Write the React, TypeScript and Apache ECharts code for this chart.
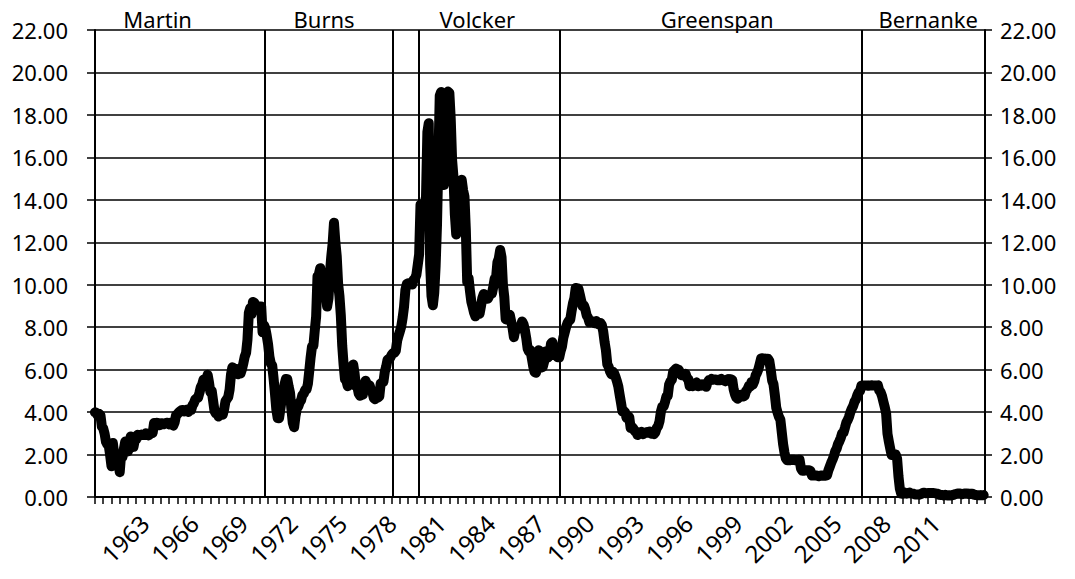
import React, { useEffect, useRef } from "react";
import * as echarts from "echarts";

const START_YEAR = 1960;
const END_YEAR = 2014;
const FONT = '"Noto Sans", "Open Sans", sans-serif';

// Monthly federal funds rate (%)
const rates1960s = [
  3.99, 3.97, 3.84, 3.92, 3.85, 3.32, 3.23, 2.98, 2.6, 2.47, 2.44, 1.98,
  1.45, 2.54, 2.02, 1.49, 1.98, 1.73, 1.17, 2.0, 1.88, 2.26, 2.61, 2.33,
  2.15, 2.37, 2.85, 2.78, 2.36, 2.68, 2.71, 2.93, 2.9, 2.9, 2.94, 2.93,
  2.92, 3.0, 2.98, 2.9, 3.0, 2.99, 3.02, 3.49, 3.48, 3.5, 3.48, 3.38,
  3.48, 3.48, 3.43, 3.47, 3.5, 3.5, 3.42, 3.5, 3.45, 3.36, 3.52, 3.85,
  3.9, 3.98, 4.04, 4.09, 4.1, 4.04, 4.09, 4.12, 4.01, 4.08, 4.1, 4.32,
  4.42, 4.6, 4.65, 4.67, 4.9, 5.17, 5.3, 5.53, 5.4, 5.53, 5.76, 5.4,
  4.94, 5.0, 4.53, 4.05, 3.94, 3.98, 3.79, 3.9, 3.99, 3.88, 4.13, 4.51,
  4.61, 4.71, 5.05, 5.76, 6.11, 6.07, 6.02, 6.03, 5.78, 5.91, 5.82, 6.02,
  6.3, 6.61, 6.79, 7.41, 8.67, 8.9, 8.61, 9.19, 9.15, 9.0, 8.85, 8.97,
];
const rates1970s = [
  8.98, 8.98, 7.76, 8.1, 7.95, 7.61, 7.21, 6.61, 6.29, 6.2, 5.6, 4.9,
  4.14, 3.72, 3.71, 4.16, 4.63, 4.91, 5.31, 5.56, 5.55, 5.2, 4.91, 4.14,
  3.5, 3.29, 3.83, 4.17, 4.27, 4.46, 4.55, 4.8, 4.87, 5.04, 5.06, 5.33,
  5.94, 6.58, 7.09, 7.12, 7.84, 8.49, 10.4, 10.5, 10.78, 10.01, 10.03, 9.95,
  9.65, 8.97, 9.35, 10.51, 11.31, 11.93, 12.92, 12.01, 11.34, 10.06, 9.45, 8.53,
  7.13, 6.24, 5.54, 5.49, 5.22, 5.55, 6.1, 6.14, 6.24, 5.82, 5.22, 5.2,
  4.87, 4.77, 4.84, 4.82, 5.29, 5.48, 5.31, 5.29, 5.25, 5.02, 4.95, 4.65,
  4.61, 4.68, 4.69, 4.73, 5.35, 5.39, 5.42, 5.9, 6.14, 6.47, 6.51, 6.56,
  6.7, 6.78, 6.79, 6.89, 7.36, 7.6, 7.81, 8.04, 8.45, 8.96, 9.76, 10.03,
  10.07, 10.06, 10.09, 10.01, 10.24, 10.29, 10.47, 10.94, 11.43, 13.77, 13.18, 13.78,
];
const rates1980s = [
  13.82, 14.13, 17.19, 17.61, 10.98, 9.47, 9.03, 9.61, 10.87, 12.81, 15.85, 18.9,
  19.08, 15.93, 14.7, 15.72, 18.52, 19.1, 19.04, 17.82, 15.87, 15.08, 13.31, 12.37,
  13.22, 14.78, 14.68, 14.94, 14.45, 14.15, 12.59, 10.12, 10.31, 9.71, 9.2, 8.95,
  8.68, 8.51, 8.77, 8.8, 8.63, 8.98, 9.37, 9.56, 9.45, 9.48, 9.34, 9.47,
  9.56, 9.59, 9.91, 10.29, 10.32, 11.06, 11.23, 11.64, 11.3, 9.99, 9.43, 8.38,
  8.35, 8.5, 8.58, 8.27, 7.97, 7.53, 7.88, 7.9, 7.92, 7.99, 8.05, 8.27,
  8.14, 7.86, 7.48, 6.99, 6.85, 6.92, 6.56, 6.17, 5.89, 5.85, 6.04, 6.91,
  6.43, 6.1, 6.13, 6.37, 6.85, 6.73, 6.58, 6.73, 7.22, 7.29, 6.69, 6.77,
  6.83, 6.58, 6.58, 6.87, 7.09, 7.51, 7.75, 8.01, 8.19, 8.3, 8.35, 8.76,
  9.12, 9.36, 9.85, 9.84, 9.81, 9.53, 9.24, 8.99, 9.02, 8.84, 8.55, 8.45,
];
const rates1990s = [
  8.23, 8.24, 8.28, 8.26, 8.18, 8.29, 8.15, 8.13, 8.2, 8.11, 7.81, 7.31,
  6.91, 6.25, 6.12, 5.91, 5.78, 5.9, 5.82, 5.66, 5.45, 5.21, 4.81, 4.43,
  4.03, 4.06, 3.98, 3.73, 3.82, 3.76, 3.25, 3.3, 3.22, 3.1, 3.09, 2.92,
  3.02, 3.03, 3.07, 2.96, 3.0, 3.04, 3.06, 3.03, 3.09, 2.99, 3.02, 2.96,
  3.05, 3.25, 3.34, 3.56, 4.01, 4.25, 4.26, 4.47, 4.73, 4.76, 5.29, 5.45,
  5.53, 5.92, 5.98, 6.05, 6.01, 6.0, 5.85, 5.74, 5.8, 5.76, 5.8, 5.6,
  5.56, 5.22, 5.31, 5.22, 5.24, 5.27, 5.4, 5.22, 5.3, 5.24, 5.31, 5.29,
  5.25, 5.19, 5.39, 5.51, 5.5, 5.56, 5.52, 5.54, 5.54, 5.5, 5.52, 5.5,
  5.56, 5.51, 5.49, 5.45, 5.49, 5.56, 5.54, 5.55, 5.51, 5.07, 4.83, 4.68,
  4.63, 4.76, 4.81, 4.74, 4.74, 4.76, 4.99, 5.07, 5.22, 5.2, 5.42, 5.3,
];
const rates2000s = [
  5.45, 5.73, 5.85, 6.02, 6.27, 6.53, 6.54, 6.5, 6.52, 6.51, 6.51, 6.4,
  5.98, 5.49, 5.31, 4.8, 4.21, 3.97, 3.77, 3.65, 3.07, 2.49, 2.09, 1.82,
  1.73, 1.74, 1.73, 1.75, 1.75, 1.75, 1.73, 1.74, 1.75, 1.75, 1.34, 1.24,
  1.24, 1.26, 1.25, 1.26, 1.26, 1.22, 1.01, 1.03, 1.01, 1.01, 1.0, 0.98,
  1.0, 1.01, 1.0, 1.0, 1.0, 1.03, 1.26, 1.43, 1.61, 1.76, 1.93, 2.16,
  2.28, 2.5, 2.63, 2.79, 3.0, 3.04, 3.26, 3.5, 3.62, 3.78, 4.0, 4.16,
  4.29, 4.49, 4.59, 4.79, 4.94, 4.99, 5.24, 5.25, 5.25, 5.25, 5.25, 5.24,
  5.25, 5.26, 5.26, 5.25, 5.25, 5.25, 5.26, 5.02, 4.94, 4.76, 4.49, 4.24,
  3.94, 2.98, 2.61, 2.28, 1.98, 2.0, 2.01, 2.0, 1.81, 0.97, 0.39, 0.16,
  0.15, 0.22, 0.18, 0.15, 0.18, 0.21, 0.16, 0.16, 0.15, 0.12, 0.12, 0.12,
];
const rates2010s = [
  0.11, 0.13, 0.16, 0.2, 0.2, 0.18, 0.18, 0.19, 0.19, 0.19, 0.19, 0.18,
  0.17, 0.16, 0.14, 0.1, 0.09, 0.09, 0.07, 0.1, 0.08, 0.07, 0.08, 0.07,
  0.08, 0.1, 0.13, 0.14, 0.16, 0.16, 0.16, 0.13, 0.14, 0.16, 0.16, 0.16,
  0.14, 0.15, 0.14, 0.15, 0.11, 0.09, 0.09, 0.08, 0.08, 0.09, 0.08, 0.09,
];

// Fed chair changes (year position of the vertical lines, as drawn)
const chairChangeYears = [1970.31, 1978.06, 1979.66, 1988.22, 2006.54];
// Chair name labels and the year around which each is centred
const chairNames = ["Martin", "Burns", "Volcker", "Greenspan", "Bernanke"];
const chairLabelYears = [1963.8, 1973.9, 1983.2, 1997.75, 2010.55];

export default function App() {
  const ref = useRef<HTMLDivElement | null>(null);

  useEffect(() => {
    if (!ref.current) return;
    const chart = echarts.init(ref.current, null, { renderer: "svg" });
    const all = [
      ...rates1960s,
      ...rates1970s,
      ...rates1980s,
      ...rates1990s,
      ...rates2000s,
      ...rates2010s,
    ];
    const data = all.map((v, i) => [i / 12, v]);

    const option: any = {
      animation: false,
      backgroundColor: "#ffffff",
      grid: { left: 95, right: 90, top: 30, bottom: 82, containLabel: false },
      xAxis: {
        type: "value",
        min: 0,
        max: END_YEAR - START_YEAR,
        interval: 3,
        axisLine: { show: true, onZero: false, lineStyle: { color: "#000", width: 2 } },
        axisTick: { show: true, length: 7, lineStyle: { color: "#000", width: 1.5 } },
        minorTick: { show: true, splitNumber: 6, length: 7, lineStyle: { color: "#000", width: 1.5 } },
        splitLine: { show: false },
        minorSplitLine: { show: false },
        axisLabel: {
          rotate: 45,
          margin: 22,
          fontSize: 24,
          color: "#000",
          fontFamily: FONT,
          showMinLabel: false,
          showMaxLabel: false,
          formatter: (v: number) => {
            const y = Math.round(v + START_YEAR);
            if (y === START_YEAR || y === END_YEAR) return "";
            return String(y);
          },
        },
      },
      yAxis: [
        {
          type: "value",
          position: "left",
          min: 0,
          max: 22,
          interval: 2,
          axisLine: { show: true, lineStyle: { color: "#000", width: 2 } },
          axisTick: { show: true, length: 8, lineStyle: { color: "#000", width: 1.5 } },
          splitLine: { show: true, lineStyle: { color: "#000", width: 1.5 } },
          axisLabel: {
            margin: 27,
            fontSize: 22,
            color: "#000",
            fontFamily: FONT,
            formatter: (v: number) => v.toFixed(2),
          },
        },
        {
          type: "value",
          position: "right",
          min: 0,
          max: 22,
          interval: 2,
          axisLine: { show: true, lineStyle: { color: "#000", width: 2 } },
          axisTick: { show: true, length: 7, lineStyle: { color: "#000", width: 1.5 } },
          splitLine: { show: false },
          axisLabel: {
            margin: 15,
            fontSize: 22,
            color: "#000",
            fontFamily: FONT,
            formatter: (v: number) => v.toFixed(2),
          },
        },
      ],
      series: [
        {
          type: "line",
          data,
          yAxisIndex: 0,
          symbol: "none",
          showSymbol: false,
          lineStyle: { color: "#000", width: 10, join: "round", cap: "round" },
          markLine: {
            silent: true,
            symbol: ["none", "none"],
            label: { show: false },
            lineStyle: { color: "#000", width: 2, type: "solid" },
            data: chairChangeYears.map((y) => ({ xAxis: y - START_YEAR })),
          },
        },
      ],
    };
    chart.setOption(option);

    const graphics = chairNames.map((name, i) => {
      const px = chart.convertToPixel({ xAxisIndex: 0 }, chairLabelYears[i] - START_YEAR) as number;
      return {
        type: "text",
        x: px,
        y: 19,
        style: {
          text: name,
          font: `22px ${FONT}`,
          fill: "#000",
          align: "center",
          verticalAlign: "middle",
          textAlign: "center",
          textVerticalAlign: "middle",
        },
      };
    });
    chart.setOption({ graphic: graphics });

    return () => {
      chart.dispose();
    };
  }, []);

  return (
    <div
      ref={ref}
      style={{ position: "fixed", left: 0, top: 0, width: 1075, height: 579, background: "#fff" }}
    />
  );
}
